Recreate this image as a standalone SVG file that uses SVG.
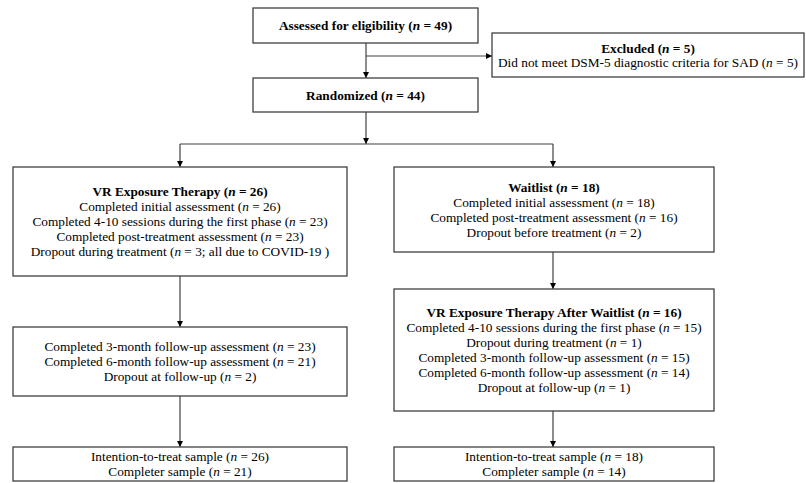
<svg xmlns="http://www.w3.org/2000/svg" width="806" height="483" viewBox="0 0 806 483">
<style>
.box{fill:#fff;stroke:#404040;stroke-width:1.3}
text{font-family:"Liberation Serif","Times New Roman",serif;font-size:13.3px;fill:#000;text-anchor:middle}
.b{font-weight:bold}
.c{fill:none;stroke:#404040;stroke-width:1.2}
</style>
<defs>
<marker id="ah" markerUnits="userSpaceOnUse" markerWidth="7" markerHeight="7" refX="6" refY="3" orient="auto">
<path d="M0,0 L6,3 L0,6 Z" fill="#000"/>
</marker>
</defs>
<rect width="806" height="483" fill="#fff"/>
<g id="connectors">
<line class="c" x1="366" y1="43" x2="366" y2="78" marker-end="url(#ah)"/>
<line class="c" x1="366" y1="56" x2="492" y2="56" marker-end="url(#ah)"/>
<line class="c" x1="366" y1="112" x2="366" y2="144" marker-end="url(#ah)"/>
<line class="c" x1="180" y1="144" x2="553" y2="144"/>
<line class="c" x1="180" y1="144" x2="180" y2="167" marker-end="url(#ah)"/>
<line class="c" x1="553" y1="144" x2="553" y2="167" marker-end="url(#ah)"/>
<line class="c" x1="180" y1="276" x2="180" y2="327" marker-end="url(#ah)"/>
<line class="c" x1="180" y1="396" x2="180" y2="447" marker-end="url(#ah)"/>
<line class="c" x1="553" y1="252" x2="553" y2="289" marker-end="url(#ah)"/>
<line class="c" x1="553" y1="411" x2="553" y2="447" marker-end="url(#ah)"/>
</g>
<g id="assessed">
<rect class="box" x="253" y="8" width="225" height="35"/>
<text class="b" x="365.5" y="30">Assessed for eligibility (<tspan font-style="italic">n</tspan> = 49)</text>
</g>
<g id="excluded">
<rect class="box" x="492" y="33" width="312" height="44"/>
<text class="b" x="648" y="52.5">Excluded (<tspan font-style="italic">n</tspan> = 5)</text>
<text x="648" y="66.5">Did not meet DSM-5 diagnostic criteria for SAD (<tspan font-style="italic">n</tspan> = 5)</text>
</g>
<g id="randomized">
<rect class="box" x="253" y="78" width="225" height="34"/>
<text class="b" x="365.5" y="99.5">Randomized (<tspan font-style="italic">n</tspan> = 44)</text>
</g>
<g id="vr">
<rect class="box" x="13" y="167" width="334" height="109"/>
<text class="b" x="180" y="196">VR Exposure Therapy (<tspan font-style="italic">n</tspan> = 26)</text>
<text x="180" y="211">Completed initial assessment (<tspan font-style="italic">n</tspan> = 26)</text>
<text x="180" y="226">Completed 4-10 sessions during the first phase (<tspan font-style="italic">n</tspan> = 23)</text>
<text x="180" y="241">Completed post-treatment assessment (<tspan font-style="italic">n</tspan> = 23)</text>
<text x="180" y="256">Dropout during treatment (<tspan font-style="italic">n</tspan> = 3; all due to COVID-19 )</text>
</g>
<g id="waitlist">
<rect class="box" x="394" y="167" width="320" height="85"/>
<text class="b" x="554" y="191.5">Waitlist (<tspan font-style="italic">n</tspan> = 18)</text>
<text x="554" y="206.5">Completed initial assessment (<tspan font-style="italic">n</tspan> = 18)</text>
<text x="554" y="221.5">Completed post-treatment assessment (<tspan font-style="italic">n</tspan> = 16)</text>
<text x="554" y="236.5">Dropout before treatment (<tspan font-style="italic">n</tspan> = 2)</text>
</g>
<g id="followup">
<rect class="box" x="13" y="327" width="334" height="69"/>
<text x="180" y="351">Completed 3-month follow-up assessment (<tspan font-style="italic">n</tspan> = 23)</text>
<text x="180" y="366">Completed 6-month follow-up assessment (<tspan font-style="italic">n</tspan> = 21)</text>
<text x="180" y="381">Dropout at follow-up (<tspan font-style="italic">n</tspan> = 2)</text>
</g>
<g id="vr-after">
<rect class="box" x="394" y="289" width="320" height="122"/>
<text class="b" x="554" y="317">VR Exposure Therapy After Waitlist (<tspan font-style="italic">n</tspan> = 16)</text>
<text x="554" y="332">Completed 4-10 sessions during the first phase (<tspan font-style="italic">n</tspan> = 15)</text>
<text x="554" y="347">Dropout during treatment (<tspan font-style="italic">n</tspan> = 1)</text>
<text x="554" y="362">Completed 3-month follow-up assessment (<tspan font-style="italic">n</tspan> = 15)</text>
<text x="554" y="377">Completed 6-month follow-up assessment (<tspan font-style="italic">n</tspan> = 14)</text>
<text x="554" y="392">Dropout at follow-up (<tspan font-style="italic">n</tspan> = 1)</text>
</g>
<g id="itt-left">
<rect class="box" x="13" y="447" width="334" height="34"/>
<text x="180" y="461">Intention-to-treat sample (<tspan font-style="italic">n</tspan> = 26)</text>
<text x="180" y="476">Completer sample (<tspan font-style="italic">n</tspan> = 21)</text>
</g>
<g id="itt-right">
<rect class="box" x="394" y="447" width="320" height="34"/>
<text x="554" y="461">Intention-to-treat sample (<tspan font-style="italic">n</tspan> = 18)</text>
<text x="554" y="476">Completer sample (<tspan font-style="italic">n</tspan> = 14)</text>
</g>
</svg>
